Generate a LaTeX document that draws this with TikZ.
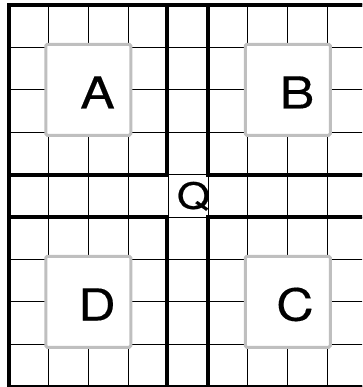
\documentclass[tikz,border=0pt]{standalone}
\usepackage{fontspec}
\setmainfont{TeX Gyre Heros}
\newfontfamily\lblfont[FakeStretch=1.18,FakeBold=0.3]{TeX Gyre Heros}
\newfontfamily\qfont[FakeStretch=1.18,FakeBold=0.6]{TeX Gyre Heros}
\definecolor{boxgray}{HTML}{BFBFBF}
\begin{document}
\begin{tikzpicture}[x=1pt,y=-1pt,
  thingrid/.style={line width=1pt, black},
  thickframe/.style={line width=4pt, black},
  letterbox/.style={draw=boxgray, fill=white, line width=3pt, rounded corners=1.5pt,
    minimum width=85pt, minimum height=91pt, inner sep=0pt},
  biglabel/.style={font=\lblfont\fontsize{44}{44}\selectfont, anchor=base, inner sep=0pt},
  qlabel/.style={font=\qfont\fontsize{36}{36}\selectfont, anchor=base, inner sep=0pt}]
\useasboundingbox (0,0) rectangle (362,387);
\clip (0,0) rectangle (362,387);
% thin grid
\foreach \i in {0,...,9}
  \draw[thingrid] ({8.5+39.9*\i},5) -- ({8.5+39.9*\i},386.6);
\foreach \j in {0,...,9}
  \draw[thingrid] (8.5,{5+42.4*\j}) -- (367.6,{5+42.4*\j});
% thick frames
\draw[thickframe] (8.5,5) rectangle (367.6,386.6);
\draw[thickframe] (8.5,5) rectangle (167,174.5);
\draw[thickframe] (207.8,5) rectangle (367.6,174.5);
\draw[thickframe] (8.5,217.3) rectangle (167,386.6);
\draw[thickframe] (207.8,217.3) rectangle (367.6,386.6);
% boxes
\node[letterbox] (boxA) at (88.3,89.8) {};
\node[letterbox] (boxB) at (287.8,89.8) {};
\node[letterbox] (boxD) at (88.3,301.8) {};
\node[letterbox] (boxC) at (287.8,301.8) {};
% labels
\node[biglabel] (labA) at (97.5,108.5) {A};
\node[biglabel] (labB) at (297,108.5) {B};
\node[biglabel] (labD) at (97,320.5) {D};
\node[biglabel] (labC) at (295,320.5) {C};
\node[qlabel] (labQ) at (193.5,208.7) {Q};
\end{tikzpicture}
\end{document}
